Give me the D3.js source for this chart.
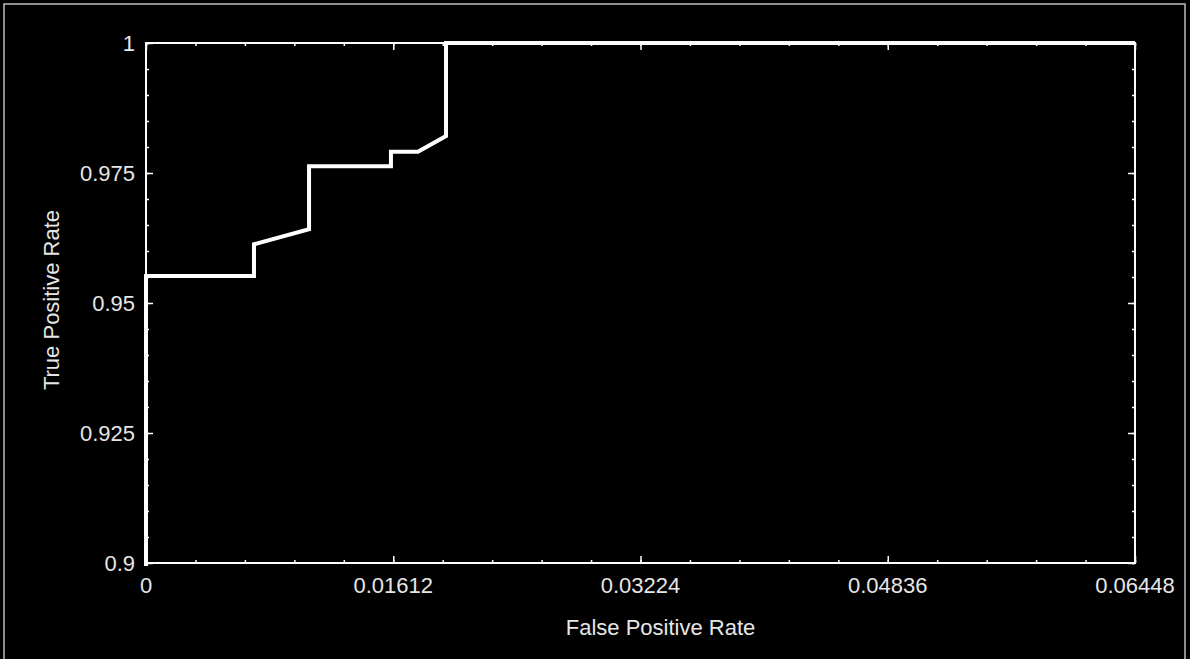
<!DOCTYPE html>
<meta charset="utf-8">
<title>ROC curve</title>
<style>
body { margin: 0; background: #000; }
text { font-family: "Liberation Sans", Arial, sans-serif; fill: #e6e6e6; }
.axis path, .axis line { stroke: #fff; }
</style>
<svg width="1190" height="659"></svg>
<script src="https://d3js.org/d3.v7.min.js"></script>
<script>

// ROC points
var fpr = [0, 0, 0.00704, 0.00704, 0.01063, 0.01063, 0.01597, 0.01597, 0.01773, 0.01956, 0.01956, 0.06448];
var tpr = [0, 0.9552, 0.9552, 0.9613, 0.9642, 0.9763, 0.9763, 0.9791, 0.9791, 0.9821, 1, 1];

var xTicks = [0, 0.01612, 0.03224, 0.04836, 0.06448];
var yTicks = [0.9, 0.925, 0.95, 0.975, 1];
var xLabels = ["0", "0.01612", "0.03224", "0.04836", "0.06448"];
var yLabels = ["0.9", "0.925", "0.95", "0.975", "1"];

var svg = d3.select("svg"),
    width = +svg.attr("width"),
    height = +svg.attr("height");

var margin = {top: 43, right: 55, bottom: 96, left: 146};

//background + outer frame
svg.append("rect")
    .attr("width", width)
    .attr("height", height)
    .attr("fill", "#000");
svg.append("rect")
    .attr("x", 4).attr("y", 4)
    .attr("width", 1181).attr("height", 670)
    .attr("fill", "none")
    .attr("stroke", "#bdbdbd")
    .attr("stroke-width", 1.5);

var x = d3.scaleLinear()
    .domain([0, 0.06448])
    .range([margin.left, width - margin.right]);

var y = d3.scaleLinear()
    .domain([0.9, 1])
    .range([height - margin.bottom, margin.top]);

var x0 = x.range()[0], x1 = x.range()[1],
    y0 = y.range()[0], y1 = y.range()[1];

// minor ticks (every fifth of a major step)
var xMinor = d3.range(0, 21).map(function(i) { return i * 0.06448 / 20; });
var yMinor = d3.range(0, 21).map(function(i) { return 0.9 + i * 0.005; });

function tickAxis(axis, ticks, size) {
  return axis.tickValues(ticks).tickSize(size).tickFormat("");
}

// minor ticks on all four sides, inward
var g = svg.append("g").attr("class", "axis");
g.append("g").attr("transform", "translate(0," + y0 + ")")
    .call(tickAxis(d3.axisTop(x), xMinor, 3));
g.append("g").attr("transform", "translate(0," + y1 + ")")
    .call(tickAxis(d3.axisBottom(x), xMinor, 3));
g.append("g").attr("transform", "translate(" + x0 + ",0)")
    .call(tickAxis(d3.axisRight(y), yMinor, 3));
g.append("g").attr("transform", "translate(" + x1 + ",0)")
    .call(tickAxis(d3.axisLeft(y), yMinor, 3));

// major ticks
g.append("g").attr("transform", "translate(0," + y0 + ")")
    .call(tickAxis(d3.axisTop(x), xTicks, 7));
g.append("g").attr("transform", "translate(0," + y1 + ")")
    .call(tickAxis(d3.axisBottom(x), xTicks, 7));
g.append("g").attr("transform", "translate(" + x0 + ",0)")
    .call(tickAxis(d3.axisRight(y), yTicks, 7));
g.append("g").attr("transform", "translate(" + x1 + ",0)")
    .call(tickAxis(d3.axisLeft(y), yTicks, 7));

g.selectAll("path.domain").remove();
g.selectAll("line").attr("stroke-width", 1.5);

// box
svg.append("rect")
    .attr("x", x0).attr("y", y1)
    .attr("width", x1 - x0).attr("height", y0 - y1)
    .attr("fill", "none")
    .attr("stroke", "#fff")
    .attr("stroke-width", 2);

// tick labels
svg.append("g").selectAll("text")
    .data(xTicks)
    .enter().append("text")
      .attr("x", function(d) { return x(d); })
      .attr("y", y0 + 30)
      .attr("text-anchor", "middle")
      .style("font-size", "22px")
      .text(function(d, i) { return xLabels[i]; });

svg.append("g").selectAll("text")
    .data(yTicks)
    .enter().append("text")
      .attr("x", x0 - 11)
      .attr("y", function(d) { return y(d); })
      .attr("dy", "0.35em")
      .attr("text-anchor", "end")
      .style("font-size", "22px")
      .text(function(d, i) { return yLabels[i]; });

// axis titles
svg.append("text")
    .attr("x", (x0 + x1) / 2 + 20)
    .attr("y", y0 + 72)
    .attr("text-anchor", "middle")
    .style("font-size", "22px")
    .text("False Positive Rate");

svg.append("text")
    .attr("transform", "translate(59," + 300 + ") rotate(-90)")
    .attr("text-anchor", "middle")
    .style("font-size", "22px")
    .text("True Positive Rate");

// curve, clipped to the plot box
svg.append("clipPath").attr("id", "clip")
  .append("rect")
    .attr("x", x0 - 3).attr("y", y1 - 3)
    .attr("width", x1 - x0 + 6).attr("height", y0 - y1 + 6);

var line = d3.line()
    .x(function(d) { return x(d[0]); })
    .y(function(d) { return y(d[1]); });

svg.append("path")
    .datum(d3.zip(fpr, tpr))
    .attr("clip-path", "url(#clip)")
    .attr("fill", "none")
    .attr("stroke", "#fff")
    .attr("stroke-width", 4)
    .attr("d", line);

</script>
